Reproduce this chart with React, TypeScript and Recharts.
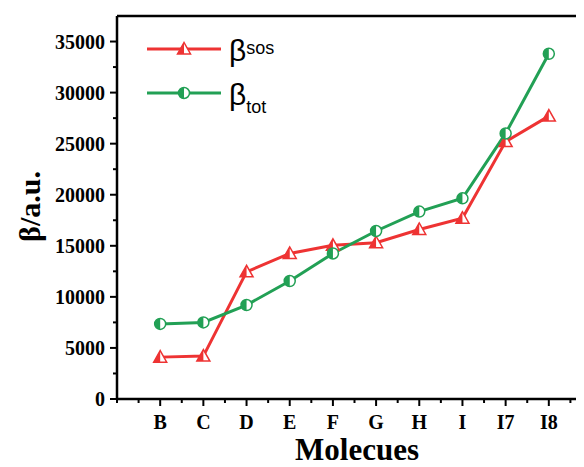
import React from "react";
import { LineChart, Line, XAxis, YAxis, ReferenceLine } from "recharts";

const categories = ["B", "C", "D", "E", "F", "G", "H", "I", "I7", "I8"];
const betaSos = [4100, 4200, 12450, 14250, 15050, 15300, 16600, 17700, 25200, 27700];
const betaTot = [7350, 7500, 9200, 11550, 14250, 16450, 18350, 19650, 26000, 33800];
const yTicks = [0, 2500, 5000, 7500, 10000, 12500, 15000, 17500, 20000, 22500, 25000, 27500, 30000, 32500, 35000];
const xTicks = [0, 0.5, 1, 1.5, 2, 2.5, 3, 3.5, 4, 4.5, 5, 5.5, 6, 6.5, 7, 7.5, 8, 8.5, 9, 9.5, 10, 10.5, 11];

const data = categories.map((c, i) => ({ x: i + 1, name: c, sos: betaSos[i], tot: betaTot[i] }));

const RED = "#ee3333";
const GREEN = "#22a055";
const SERIF = "'Liberation Serif', 'Times New Roman', serif";
const SANS = "'Liberation Sans', Arial, sans-serif";

const TriDot = (props: any) => {
  const { cx, cy } = props;
  if (cx == null || cy == null) return null;
  return (
    <g>
      <path d={`M${cx},${cy - 6.5} L${cx - 6.5},${cy + 5} L${cx + 6.5},${cy + 5} Z`} fill="#fff" stroke={RED} strokeWidth={1.5} />
      <path d={`M${cx},${cy - 6.5} L${cx - 6.5},${cy + 5} L${cx},${cy + 5} Z`} fill={RED} />
    </g>
  );
};

const CircDot = (props: any) => {
  const { cx, cy } = props;
  if (cx == null || cy == null) return null;
  const r = 5.5;
  return (
    <g>
      <circle cx={cx} cy={cy} r={r} fill="#fff" stroke={GREEN} strokeWidth={1.5} />
      <path d={`M${cx},${cy - r} A${r},${r} 0 0 0 ${cx},${cy + r} Z`} fill={GREEN} />
    </g>
  );
};

const XTick = (props: any) => {
  const { x, y, payload } = props;
  const v = payload.value;
  const isMajor = Number.isInteger(v);
  const idx = v - 1;
  const label = isMajor && idx >= 0 && idx < categories.length ? categories[idx] : null;
  return (
    <g>
      <line x1={x} x2={x} y1={y - 8} y2={y - 8 + (isMajor && label ? 7 : 4)} stroke="#000" strokeWidth={2} />
      {label && (
        <text x={x} y={y + 22} textAnchor="middle" fontFamily={SERIF} fontWeight="bold" fontSize={20} fill="#000">
          {label}
        </text>
      )}
    </g>
  );
};

const YTick = (props: any) => {
  const { x, y, payload } = props;
  const v = payload.value;
  const isMajor = v % 5000 === 0;
  return (
    <g>
      <line x1={x + 8} x2={x + 8 - (isMajor ? 7 : 4)} y1={y} y2={y} stroke="#000" strokeWidth={2} />
      {isMajor && (
        <text x={x - 4} y={y + 7} textAnchor="end" fontFamily={SERIF} fontWeight="bold" fontSize={20} fill="#000">
          {v}
        </text>
      )}
    </g>
  );
};

const YLabel = (props: any) => {
  const { viewBox } = props;
  const cy = viewBox.y + viewBox.height / 2 - 1;
  return (
    <text x={32} y={cy} transform={`rotate(-90, 32, ${cy})`} textAnchor="middle" fontFamily={SERIF} fontWeight="bold" fontSize={30} fill="#000">
      β/a.u.
    </text>
  );
};

const XLabel = (props: any) => {
  const { viewBox } = props;
  const cx = viewBox.x + 240;
  return (
    <text x={cx} y={452} textAnchor="middle" fontFamily={SERIF} fontWeight="bold" fontSize={31} fill="#000">
      Molecues
    </text>
  );
};

const LegendBox = () => (
  <div style={{ position: "absolute", left: 139, top: 33, width: 200, height: 100, pointerEvents: "none" }}>
    <svg width={90} height={100} style={{ position: "absolute", left: 0, top: 0 }}>
      <line x1={0} x2={74} y1={8} y2={8} stroke={RED} strokeWidth={3} />
      <TriDot cx={37} cy={8} />
      <line x1={0} x2={74} y1={52} y2={52} stroke={GREEN} strokeWidth={3} />
      <CircDot cx={37} cy={52} />
    </svg>
    <div style={{ position: "absolute", left: 82, top: -8, fontFamily: SANS, fontSize: 30, lineHeight: "36px", color: "#000", whiteSpace: "nowrap" }}>
      β<sup style={{ fontSize: 18, verticalAlign: "top", position: "relative", top: -3 }}>sos</sup>
    </div>
    <div style={{ position: "absolute", left: 82, top: 36, fontFamily: SANS, fontSize: 30, lineHeight: "36px", color: "#000", whiteSpace: "nowrap" }}>
      β<sub style={{ fontSize: 18, verticalAlign: "baseline", position: "relative", top: 8 }}>tot</sub>
    </div>
  </div>
);

export default function App() {
  return (
    <div style={{ width: 600, height: 458, position: "relative" }}>
      <LineChart width={600} height={458} data={data} margin={{ top: 8, right: 16, left: 0, bottom: 0 }}>
        <XAxis
          dataKey="x"
          type="number"
          domain={[0, 11]}
          ticks={xTicks}
          interval={0}
          tick={<XTick />}
          tickLine={false}
          axisLine={{ stroke: "#000", strokeWidth: 2.5 }}
          height={67}
          label={<XLabel />}
        />
        <YAxis
          type="number"
          domain={[0, 37500]}
          ticks={yTicks}
          interval={0}
          tick={<YTick />}
          tickLine={false}
          axisLine={{ stroke: "#000", strokeWidth: 2.5 }}
          width={109}
          label={<YLabel />}
        />
        <ReferenceLine y={37500} stroke="#000" strokeWidth={2.5} ifOverflow="visible" />
        <Line dataKey="sos" stroke={RED} strokeWidth={3} dot={<TriDot />} activeDot={false} isAnimationActive={false} />
        <Line dataKey="tot" stroke={GREEN} strokeWidth={3} dot={<CircDot />} activeDot={false} isAnimationActive={false} />
      </LineChart>
      <LegendBox />
    </div>
  );
}
